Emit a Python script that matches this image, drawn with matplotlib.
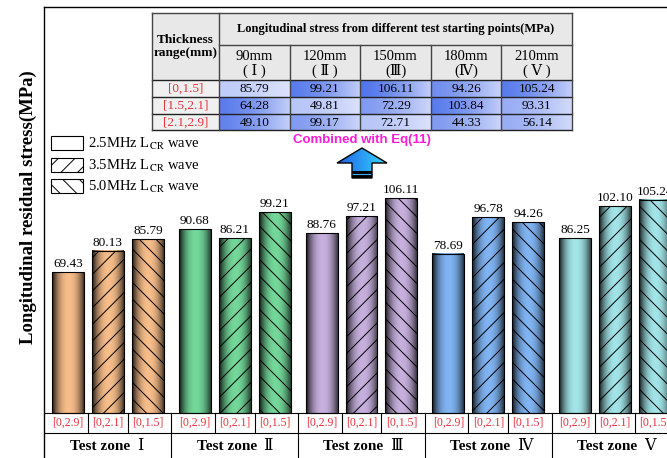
import numpy as np
import matplotlib
matplotlib.use('Agg')
import matplotlib.pyplot as plt
from matplotlib.patches import Patch, Rectangle, Polygon
from matplotlib.colors import to_rgb

# bar data, residual stress (MPa)
zones = ['Test zone', 'Test zone', 'Test zone', 'Test zone', 'Test zone']
zone_ids = ['Ⅰ', 'Ⅱ', 'Ⅲ', 'Ⅳ', 'Ⅴ']
ranges = ['[0,2.9]', '[0,2.1]', '[0,1.5]']
waves = ['2.5MHz L$_{\\mathrm{CR}}$ wave', '3.5MHz L$_{\\mathrm{CR}}$ wave',
         '5.0MHz L$_{\\mathrm{CR}}$ wave']
stress_25 = [69.43, 90.68, 88.76, 78.69, 86.25]
stress_35 = [80.13, 86.21, 97.21, 96.78, 102.10]
stress_50 = [85.79, 99.21, 106.11, 94.26, 105.24]

# inset table
thick_ranges = ['[0,1.5]', '[1.5,2.1]', '[2.1,2.9]']
start_points = ['90mm', '120mm', '150mm', '180mm', '210mm']
start_ids = ['( Ⅰ )', '( Ⅱ )', '(Ⅲ)', '(Ⅳ)', '( Ⅴ )']
row_0_15 = [85.79, 99.21, 106.11, 94.26, 105.24]
row_15_21 = [64.28, 49.81, 72.29, 103.84, 93.31]
row_21_29 = [49.10, 99.17, 72.71, 44.33, 56.14]

# styling
zone_colors = ['#f7bd8a', '#74d89a', '#c7b0de', '#80b4f2', '#a2e4e8']
hatches = ['', '//', '\\\\']
cell_shade = [[0.25, 0.9, 0.95, 0.75, 0.9],
              [0.9, 0.3, 0.65, 0.9, 0.5],
              [0.85, 0.65, 0.3, 0.65, 0.5]]
red = '#e8323c'

plt.rcParams['font.family'] = ['Liberation Serif', 'DejaVu Serif', 'Noto Sans CJK SC']
plt.rcParams['mathtext.fontset'] = 'stix'
plt.rcParams['hatch.linewidth'] = 0.7

fig = plt.figure(figsize=(6.67, 4.58), dpi=100)
ax = fig.add_axes([44 / 667, 0, 636 / 667, 451 / 458])

group_step = 3.175
bar_w = 0.8
row1 = -9.9
ybot = -22.2
series = [stress_25, stress_35, stress_50]

t = np.linspace(0, 1, 80)
shade = 1 - 0.8 * np.abs(2 * t - 1.05) ** 2.2

for j, vals in enumerate(series):
    xs = np.arange(len(zones)) * group_step + j
    bars = ax.bar(xs, vals, width=bar_w, facecolor='none', edgecolor='black',
                  linewidth=0.8, hatch=hatches[j], zorder=3)
    for g, b in enumerate(bars):
        rgb = np.array(to_rgb(zone_colors[g]))
        grad = np.clip(shade[None, :, None] * rgb[None, None, :], 0, 1)
        ax.imshow(grad, extent=[b.get_x(), b.get_x() + b.get_width(), 0, b.get_height()],
                  aspect='auto', zorder=2, interpolation='bilinear')
        ax.text(b.get_x() + b.get_width() / 2, b.get_height() + 1.0, f'{vals[g]:.2f}',
                ha='center', va='bottom', fontsize=9.5)

# range / zone label boxes under the bars
ax.axhline(0, color='black', lw=0.8, zorder=4)
ax.axhline(row1, color='black', lw=0.8, zorder=4)
for g in range(len(zones)):
    x0 = g * group_step
    for j in range(3):
        ax.text(x0 + j, row1 / 2, ranges[j], color=red, ha='center', va='center', fontsize=8.5)
    for j in range(2):
        ax.plot([x0 + j + 0.5] * 2, [row1, 0], color='black', lw=0.8)
    divider = x0 + 2 + (group_step - 2) / 2
    ax.plot([divider] * 2, [ybot, 0], color='black', lw=0.8)
    ax.text(x0 + 1.55, (row1 + ybot) / 2 - 0.3, zones[g], ha='right', va='center',
            fontsize=11, fontweight='bold')
    ax.text(x0 + 1.72, (row1 + ybot) / 2 - 0.3, zone_ids[g], ha='left', va='center',
            fontsize=11.5)

ax.set_xlim(-0.6, (len(zones) - 1) * group_step + 2 + 0.625)
ax.set_ylim(ybot, 200.5)
for s in ['right', 'bottom']:
    ax.spines[s].set_visible(False)
ax.spines['left'].set_linewidth(1.0)
ax.spines['top'].set_linewidth(1.0)
ax.set_xticks([])
ax.set_yticks([])

handles = [Patch(facecolor='white', edgecolor='black', hatch=h, linewidth=0.8) for h in hatches]
ax.legend(handles, waves, loc='upper left', bbox_to_anchor=(7 / 636, 1 - 129 / 451),
          frameon=False, fontsize=10.5, handlelength=2.2, handleheight=1.1,
          handletextpad=0.35, labelspacing=0.38, borderpad=0, borderaxespad=0)

fig.text(28 / 667, 1 - 207 / 458, 'Longitudinal residual stress(MPa)', rotation=90,
         ha='center', va='center', fontsize=13.5, fontweight='bold')

# overlay in pixel units for the table and the arrow
ov = fig.add_axes([0, 0, 1, 1], zorder=5)
ov.axis('off')

tx0, tx1, tx2 = 152, 219, 572
ty = [13, 45, 80, 97, 114, 130]
col_w = (tx2 - tx1) / len(start_points)
table_rows = [row_0_15, row_15_21, row_21_29]
dark = np.array(to_rgb('#4a6fea'))
light = np.array(to_rgb('#e6eafd'))
edge = '#444444'

ov.add_patch(Rectangle((tx0, ty[0]), tx2 - tx0, ty[2] - ty[0], facecolor='#e8e8e8', edgecolor='none'))
ov.add_patch(Rectangle((tx0, ty[2]), tx1 - tx0, ty[5] - ty[2], facecolor='#f0f0f0', edgecolor='none'))
tc = np.linspace(0, 1, 60)
for r, vals in enumerate(table_rows):
    for c, v in enumerate(vals):
        f = cell_shade[r][c] * (1 - 0.75 * tc ** 1.5)
        grad = light[None, None, :] + f[None, :, None] * (dark - light)[None, None, :]
        cx = tx1 + c * col_w
        ov.imshow(grad, extent=[cx, cx + col_w, ty[r + 3], ty[r + 2]], aspect='auto',
                  interpolation='bilinear', zorder=1)
        ov.text(cx + col_w / 2, (ty[r + 2] + ty[r + 3]) / 2 + 0.5, f'{v:.2f}',
                ha='center', va='center', fontsize=9.5, zorder=3)
    ov.text((tx0 + tx1) / 2, (ty[r + 2] + ty[r + 3]) / 2 + 0.5, thick_ranges[r], color=red,
            ha='center', va='center', fontsize=9.5, zorder=3)

for c, (sp, sid) in enumerate(zip(start_points, start_ids)):
    cx = tx1 + c * col_w + col_w / 2
    ov.text(cx, 56, sp, ha='center', va='center', fontsize=10.5, zorder=3)
    ov.text(cx, 71, sid, ha='center', va='center', fontsize=10.5, zorder=3)

ov.text((tx0 + tx1) / 2, (ty[0] + ty[2]) / 2, 'Thickness\nrange(mm)', ha='center',
        va='center', fontsize=9.5, fontweight='bold', zorder=3)
ov.text((tx1 + tx2) / 2, (ty[0] + ty[1]) / 2, 'Longitudinal stress from different test starting points(MPa)',
        ha='center', va='center', fontsize=9, fontweight='bold', zorder=3)

# grid lines of the table
ov.plot([tx0, tx2], [ty[0]] * 2, color=edge, lw=1, zorder=4)
ov.plot([tx1, tx2], [ty[1]] * 2, color=edge, lw=1, zorder=4)
for y in ty[2:]:
    ov.plot([tx0, tx2], [y] * 2, color='#222222', lw=1, zorder=4)
for x in [tx0, tx1, tx2]:
    ov.plot([x, x], [ty[0], ty[5]], color=edge, lw=1, zorder=4)
for c in range(1, len(start_points)):
    x = tx1 + c * col_w
    ov.plot([x, x], [ty[1], ty[5]], color=edge, lw=1, zorder=4)

ov.text(362, 140, 'Combined with Eq(11)', color='#ff1ad9', fontsize=9.5, fontweight='bold',
        family='Liberation Sans', ha='center', va='center', zorder=3)

arrow = Polygon([(362, 148), (387, 163), (372, 163), (372, 178), (352, 178), (352, 163), (337, 163)],
                closed=True, facecolor='none', edgecolor='black', lw=1, zorder=4)
ov.add_patch(arrow)
ta = np.linspace(0, 1, 60)
agrad = (1 - ta)[None, :, None] * np.array(to_rgb('#1d5fe6')) + ta[None, :, None] * np.array(to_rgb('#38d8ff'))
im = ov.imshow(agrad, extent=[337, 387, 178, 148], aspect='auto', interpolation='bilinear', zorder=2)
im.set_clip_path(arrow)
ov.add_patch(Rectangle((352, 171), 20, 7, facecolor='black', edgecolor='none', zorder=3))
ov.plot([352, 372], [174, 174], color='#38b0ff', lw=0.8, zorder=3)

ov.set_xlim(0, 667)
ov.set_ylim(458, 0)

fig.savefig('out.png', dpi=100)
